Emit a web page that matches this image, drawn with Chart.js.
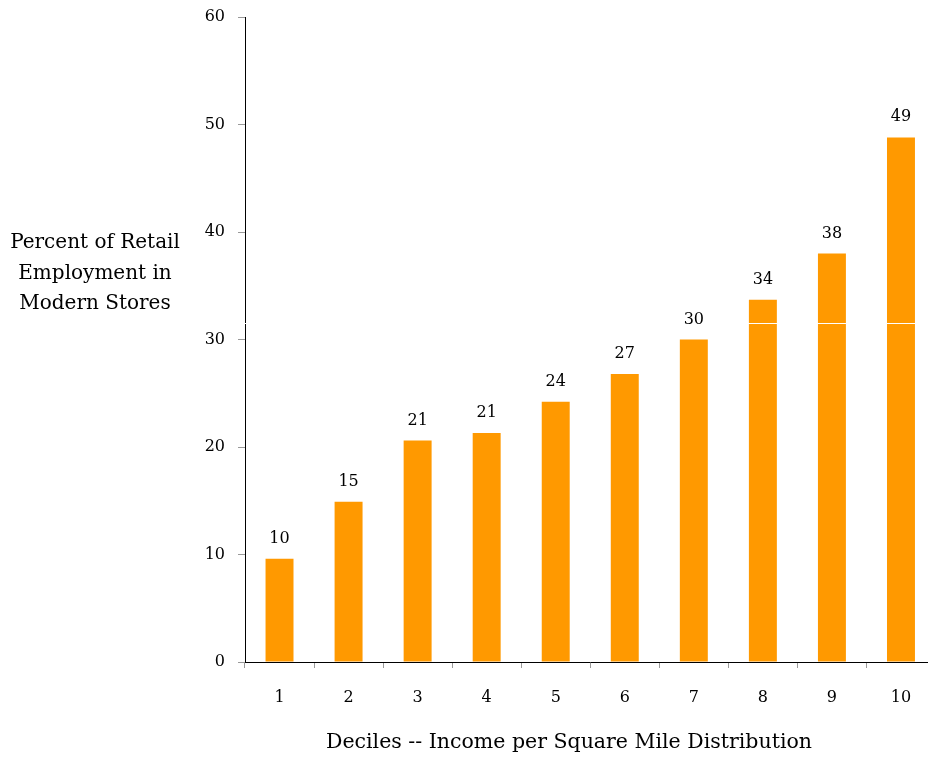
<!DOCTYPE html>
<html>
<head>
<meta charset="utf-8">
<title>Modern Stores by Income Decile</title>
<script src="https://cdn.jsdelivr.net/npm/chart.js@4.4.1/dist/chart.umd.min.js"></script>
<style>
    html, body { margin: 0; padding: 0; background: #fff; overflow: hidden; }
    #wrap { width: 944px; height: 757px; }
</style>
</head>
<body>
<div id="wrap"><canvas id="chart" width="944" height="757"></canvas></div>
<script>
// Share of retail employment in modern stores, by income-density decile
const deciles = ['1', '2', '3', '4', '5', '6', '7', '8', '9', '10'];
const modernShare = [9.6, 14.9, 20.6, 21.3, 24.2, 26.8, 30.0, 33.7, 38.0, 48.8];
const yTicks = [0, 10, 20, 30, 40, 50, 60];
const yTitleLines = ['Percent of Retail', 'Employment in', 'Modern Stores'];
const xTitle = 'Deciles -- Income per Square Mile Distribution';

const FONT = '"Palatino Linotype", Palatino, "Book Antiqua", "DejaVu Serif", serif';
const BAR_COLOR = '#ff9900';
const TEXT_COLOR = '#000';

// thin white rule through the upper bars and the axis (drawn under the labels)
const whiteRule = {
    id: 'whiteRule',
    afterDatasetsDraw(chart) {
        const ctx = chart.ctx;
        const y = Math.round(chart.scales.y.getPixelForValue(31.5)) + 0.5;
        ctx.save();
        ctx.strokeStyle = '#fff';
        ctx.lineWidth = 1;
        ctx.beginPath();
        ctx.moveTo(chart.chartArea.left - 2, y);
        ctx.lineTo(chart.chartArea.right, y);
        ctx.stroke();
        ctx.restore();
    }
};

// value labels above each bar
const barValues = {
    id: 'barValues',
    afterDatasetsDraw(chart) {
        const ctx = chart.ctx;
        const meta = chart.getDatasetMeta(0);
        ctx.save();
        ctx.font = '16px ' + FONT;
        ctx.fillStyle = TEXT_COLOR;
        ctx.textAlign = 'center';
        ctx.textBaseline = 'alphabetic';
        meta.data.forEach((bar, i) => {
            ctx.fillText(String(Math.round(modernShare[i])), bar.x, bar.y - 16);
        });
        ctx.restore();
    }
};

// axis captions: three horizontal lines on the left, one line under the x axis
const captions = {
    id: 'captions',
    afterDraw(chart) {
        const ctx = chart.ctx;
        ctx.save();
        ctx.fillStyle = TEXT_COLOR;
        ctx.textAlign = 'center';
        ctx.textBaseline = 'middle';
        ctx.font = '20px ' + FONT;
        yTitleLines.forEach((line, i) => {
            ctx.fillText(line, 95, 243 + i * 30.5);
        });
        ctx.font = '20.5px ' + FONT;
        ctx.fillText(xTitle, 569, 743);
        ctx.restore();
    }
};

new Chart(document.getElementById('chart'), {
    type: 'bar',
    data: {
        labels: deciles,
        datasets: [{
            data: modernShare,
            backgroundColor: BAR_COLOR,
            borderWidth: 0,
            barPercentage: 0.405,
            categoryPercentage: 1
        }]
    },
    options: {
        responsive: false,
        animation: false,
        layout: { padding: { top: 17, right: 8.5, bottom: 0, left: 0 } },
        plugins: {
            legend: { display: false },
            title: { display: false },
            tooltip: { enabled: false }
        },
        scales: {
            x: {
                afterFit(scale) { scale.height = 95; },
                grid: {
                    display: true,
                    drawOnChartArea: false,
                    offset: true,
                    tickLength: 6,
                    color: '#999'
                },
                border: { color: '#000', width: 1 },
                ticks: {
                    color: TEXT_COLOR,
                    padding: 20,
                    font: { family: FONT, size: 16 }
                }
            },
            y: {
                min: 0,
                max: 60,
                afterFit(scale) {
                    scale.width = 245;
                    scale.paddingTop = 0;
                    scale.paddingBottom = 0;
                },
                afterBuildTicks(scale) {
                    scale.ticks = yTicks.map(v => ({ value: v }));
                },
                grid: {
                    display: true,
                    drawOnChartArea: false,
                    tickLength: 7,
                    color: '#999'
                },
                border: { color: '#000', width: 1 },
                ticks: {
                    color: TEXT_COLOR,
                    padding: 13,
                    font: { family: FONT, size: 16 }
                }
            }
        }
    },
    plugins: [whiteRule, barValues, captions]
});
</script>
</body>
</html>
